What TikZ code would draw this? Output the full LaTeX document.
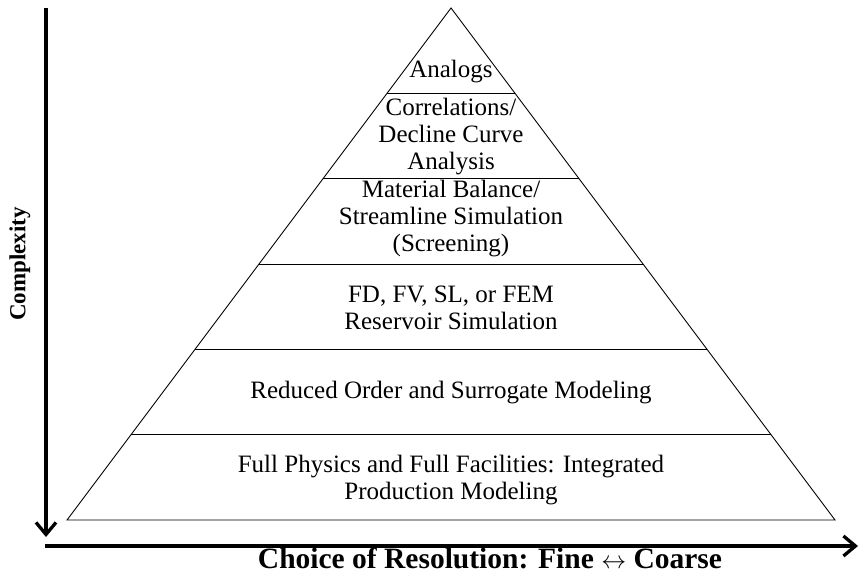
\documentclass[tikz,border=0pt]{standalone}
\usepackage{fontspec}
\setmainfont{Liberation Serif}
\usepackage{tikz}
\usetikzlibrary{arrows.meta,calc}

\begin{document}
\begin{tikzpicture}[x=1pt, y=-1pt,
    tier/.style={font=\fontsize{25}{27}\selectfont, align=center, inner sep=0pt},
    axis/.style={line width=3.3pt, -{Straight Barb[length=12pt, width=20pt, line width=3.3pt]}},
    axlabel/.style={font=\fontsize{#1}{#1}\selectfont\bfseries, inner sep=0pt}
]
\useasboundingbox (0,0) rectangle (861,575);
\coordinate (apex) at (451,8);
\coordinate (bl) at (67,520);
\coordinate (br) at (835,520);
\draw[line width=0.9pt] (apex) -- (bl) -- (br) -- cycle;
\foreach \k in {1,...,5}
  \draw[line width=0.9pt] ($(apex)!\k/6!(bl)$) -- ($(apex)!\k/6!(br)$);
% tier labels
\node[tier] (t1) at (451,72) {Analogs};
\node[tier] (t2) at (451,137) {Correlations/\\Decline Curve\\Analysis};
\node[tier] (t3) at (451,219) {Material Balance/\\Streamline Simulation\\(Screening)};
\node[tier] (t4) at (451,308) {FD, FV, SL, or FEM\\Reservoir Simulation};
\node[tier] (t5) at (451,393) {Reduced Order and Surrogate Modeling};
\node[tier] (t6) at (451,480) {Full Physics and Full Facilities: Integrated\\Production Modeling};
% axes
\coordinate (ytop) at (46,8);
\coordinate (ybot) at (46,537);
\coordinate (xleft) at (45,546);
\coordinate (xright) at (858,546);
\draw[axis] (ytop) -- (ybot);
\draw[axis] (xleft) -- (xright);
\node[axlabel=23, rotate=90] (ylab) at (20,264) {Complexity};
\node[axlabel=29.5, anchor=base] (xlab) at (490,568.5) {Choice of Resolution: Fine $\leftrightarrow$ Coarse};
\end{tikzpicture}
\end{document}
